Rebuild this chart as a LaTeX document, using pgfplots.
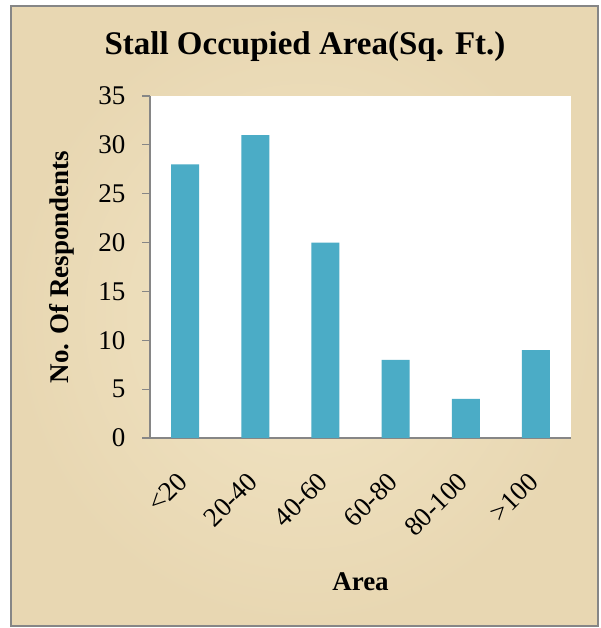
\documentclass[border=0pt]{standalone}
\usepackage{fontspec}
\setmainfont{Liberation Serif}
\usepackage{pgfplots}
\pgfplotsset{compat=1.18}
\definecolor{barblue}{RGB}{75,172,198}
\definecolor{parch}{RGB}{242,229,197}
\definecolor{parchdark}{RGB}{232,215,178}
\definecolor{axgray}{RGB}{134,134,134}
\begin{document}
\begin{tikzpicture}
\useasboundingbox (0pt,0pt) rectangle (600pt,628pt);
\fill[white] (0pt,0pt) rectangle (600pt,628pt);
% parchment panel with frame
\shade[inner color=parch, outer color=parchdark] (11pt,2pt) rectangle (598pt,622pt);
\draw[axgray, line width=2pt] (11pt,2pt) rectangle (598pt,622pt);
\node[font=\bfseries\fontsize{33}{38}\selectfont] at (305pt,581pt) {Stall Occupied Area(Sq. Ft.)};
\begin{axis}[
  at={(150pt,190pt)}, anchor=south west,
  width=421pt, height=342pt, scale only axis,
  axis background/.style={fill=white},
  axis x line=bottom, axis y line=left,
  axis line style={axgray, line width=1.5pt, -},
  ybar, bar width=28pt,
  xmin=-0.5, xmax=5.5, ymin=0, ymax=35,
  xtick={0,...,5},
  xticklabels={{<20},{20-40},{40-60},{60-80},{80-100},{>100}},
  ytick={0,5,...,35},
  tick align=outside,
  x tick style={draw=none},
  y tick style={axgray, line width=1.2pt},
  major tick length=8pt,
  /pgf/number format/assume math mode=true,
  tick label style={font=\fontsize{27}{30}\selectfont},
  yticklabel style={xshift=-13pt},
  xticklabel style={xshift=0pt, yshift=-29pt, rotate=45, anchor=east},
  xlabel={\textbf{Area}},
  ylabel={\textbf{No. Of Respondents}},
  label style={font=\fontsize{27}{30}\selectfont},
  xlabel style={at={(axis description cs:0.5,-0.421)}, anchor=center},
  ylabel style={at={(axis description cs:-0.209,0.5)}, anchor=center},
]
\addplot[fill=barblue, draw=none] coordinates {(0,28) (1,31) (2,20) (3,8) (4,4) (5,9)};
\end{axis}
\end{tikzpicture}
\end{document}
